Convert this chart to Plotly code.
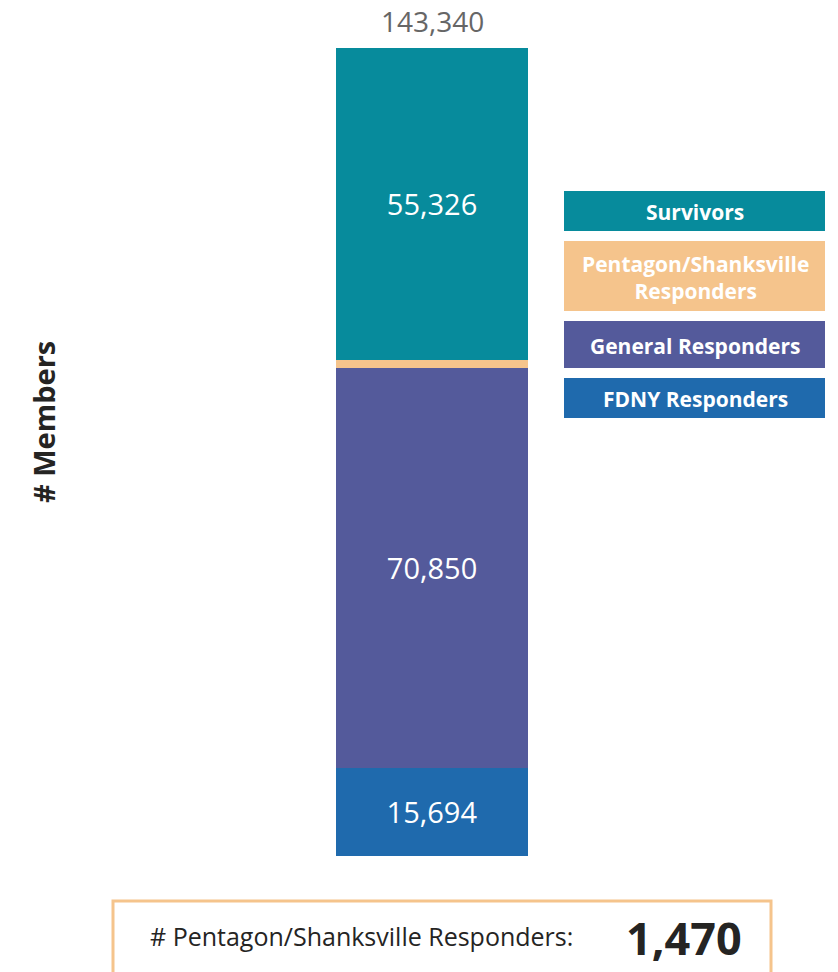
import plotly.graph_objects as go

categories = ["FDNY Responders", "General Responders", "Pentagon/Shanksville Responders", "Survivors"]
values = [15694, 70850, 1470, 55326]
colors = ["#1F6AAD", "#545A9B", "#F5C48C", "#078B9C"]
show_label = [True, True, False, True]
legend_order = ["Survivors", "Pentagon/Shanksville Responders", "General Responders", "FDNY Responders"]
legend_text = {"Survivors": "Survivors",
               "Pentagon/Shanksville Responders": "Pentagon/Shanksville<br>Responders",
               "General Responders": "General Responders",
               "FDNY Responders": "FDNY Responders"}
highlight_category = "Pentagon/Shanksville Responders"

FONT = "Open Sans, Noto Sans, sans-serif"
W, H = 838, 972
OFF = 8  # page body margin
L, R, T, B = 336, 528, 48, 856  # plot area in screenshot pixels
total = sum(values)

def px_x(px):
    return (px - L) / (R - L)

def px_y(py):
    return (B - py) / (B - T)

fig = go.Figure()
for c, v, col, s in zip(categories, values, colors, show_label):
    fig.add_trace(go.Bar(
        x=["Members"], y=[v], name=c, marker=dict(color=col, line=dict(width=0)),
        width=1,
        text=[f"{v:,}"] if s else [""],
        textposition="inside" if s else "none",
        insidetextanchor="middle",
        textfont=dict(family=FONT, size=29, color="white"),
        hoverinfo="skip",
    ))

annotations = [
    dict(x=0, y=total, xref="x", yref="y", text=f"{total:,}", showarrow=False,
         xanchor="center", yanchor="middle", yshift=27,
         font=dict(family=FONT, size=28, color="#666666")),
    dict(x=px_x(43), y=px_y(422), xref="paper", yref="paper", text="<b># Members</b>",
         showarrow=False, textangle=-90, xanchor="center", yanchor="middle",
         font=dict(family=FONT, size=29, color="#252423")),
]

shapes = []
legend_boxes = {
    "Survivors": (191, 231),
    "Pentagon/Shanksville Responders": (241, 311),
    "General Responders": (321, 368),
    "FDNY Responders": (378, 418),
}
col_map = dict(zip(categories, colors))
for name in legend_order:
    y0, y1 = legend_boxes[name]
    shapes.append(dict(type="rect", xref="paper", yref="paper",
                       x0=px_x(564), x1=px_x(825), y0=px_y(y1), y1=px_y(y0),
                       fillcolor=col_map[name], line=dict(width=0), layer="above"))
    annotations.append(dict(x=px_x(695), y=px_y((y0 + y1) / 2 + 1), xref="paper", yref="paper",
                            text=f"<b>{legend_text[name]}</b>", showarrow=False,
                            xanchor="center", yanchor="middle",
                            font=dict(family=FONT, size=21, color="white")))

# bottom card
shapes.append(dict(type="rect", xref="paper", yref="paper",
                   x0=px_x(113), x1=px_x(771), y0=px_y(1000), y1=px_y(901),
                   fillcolor="white", line=dict(color="#F5C48C", width=3)))
hv = values[categories.index(highlight_category)]
annotations.append(dict(x=px_x(148), y=px_y(936), xref="paper", yref="paper",
                        xanchor="left", yanchor="middle",
                        text=f"# {highlight_category}:", showarrow=False,
                        font=dict(family=FONT, size=25, color="#252423")))
annotations.append(dict(x=px_x(684), y=px_y(937), xref="paper", yref="paper",
                        xanchor="center", yanchor="middle",
                        text=f"<b>{hv:,}</b>", showarrow=False,
                        font=dict(family=FONT, size=45, color="#252423")))

fig.update_layout(
    width=W, height=H, barmode="stack", showlegend=False,
    margin=dict(l=L - OFF, r=W - (R - OFF), t=T - OFF, b=H - (B - OFF), pad=0),
    paper_bgcolor="white", plot_bgcolor="white",
    xaxis=dict(visible=False, range=[-0.5, 0.5]),
    yaxis=dict(visible=False, range=[0, total]),
    shapes=shapes, annotations=annotations,
)
fig.write_html("out.html")
